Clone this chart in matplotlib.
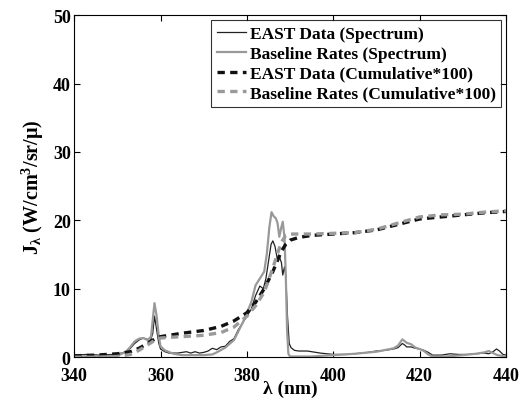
import numpy as np
import matplotlib
matplotlib.use('Agg')
import matplotlib.pyplot as plt

plt.rcParams['font.family'] = 'Liberation Serif'
plt.rcParams['font.weight'] = 'bold'
plt.rcParams['mathtext.fontset'] = 'custom'
plt.rcParams['mathtext.rm'] = 'Liberation Serif:bold'
plt.rcParams['mathtext.it'] = 'Liberation Serif:bold'
plt.rcParams['mathtext.bf'] = 'Liberation Serif:bold'

# EAST spectrum (thin dark line)
east_wl = [340, 343, 346, 349, 351, 352, 353, 354, 355, 356, 357, 357.6, 358.2, 358.6,
           359.1, 359.6, 360, 361, 362, 364, 366, 367, 368, 369, 370, 371, 372, 373,
           374, 375, 376, 377, 378, 379, 380, 381, 382, 383, 383.8, 384.4, 385, 385.6,
           386, 386.5, 387, 387.5, 388, 388.3, 388.7, 389, 389.4, 389.8, 390.2, 391,
           392, 394, 395, 397, 400, 403, 405, 408, 410, 412, 414, 415, 416, 416.5,
           417, 418, 419, 420, 421, 422, 423, 425, 427, 429, 431, 433, 435, 436,
           437, 437.8, 438.5, 439.3, 440]
east_spec = [0.3, 0.4, 0.3, 0.4, 0.6, 0.8, 1.3, 2.0, 2.5, 2.8, 2.6, 2.3, 3.5, 6.0,
             4.0, 2.0, 1.2, 0.8, 0.6, 0.6, 0.8, 0.6, 0.8, 0.6, 0.7, 0.9, 1.3, 1.1,
             1.5, 1.6, 2.3, 2.7, 4.0, 5.0, 6.0, 7.0, 9.0, 10.4, 10.0, 11.5, 14.0, 16.5,
             17.0, 16.2, 14.5, 14.7, 13.8, 12.0, 13.2, 12.0, 6.0, 2.0, 1.4, 1.0,
             0.9, 0.9, 0.8, 0.6, 0.4, 0.4, 0.5, 0.7, 0.9, 1.0, 1.2, 1.4, 2.0, 1.8,
             1.5, 1.5, 1.3, 1.2, 1.0, 0.7, 0.3, 0.3, 0.5, 0.4, 0.4, 0.5, 0.6, 0.5,
             0.8, 1.2, 0.9, 0.4, 0.3]

# Baseline rates spectrum (grey line)
base_wl = [340, 345, 350, 352, 353, 354, 355, 356, 357, 357.8, 358.2, 358.6, 359.1,
           359.6, 360, 361, 363, 365, 368, 370, 372, 373, 375, 377, 379, 380, 381,
           382, 383, 384, 384.6, 385.2, 385.7, 386.2, 386.7, 387.1, 387.5, 387.9,
           388.3, 388.7, 389, 389.3, 389.6, 390, 395, 400, 405, 410, 414, 415, 416,
           417, 418, 419, 420, 421, 422, 423, 426, 430, 433, 435, 436, 438, 440]
base_spec = [0.1, 0.1, 0.2, 0.8, 1.5, 2.3, 2.7, 2.8, 2.5, 3.0, 5.5, 7.9, 6.0,
             3.0, 1.6, 1.0, 0.5, 0.3, 0.3, 0.3, 0.4, 0.7, 1.4, 2.5, 5.0, 6.5, 8.0,
             10.5, 11.5, 12.5, 15.0, 19.0, 21.2, 20.6, 20.3, 19.6, 17.6, 18.8,
             19.8, 17.5, 12.0, 4.0, 0.5, 0.1, 0.1, 0.3, 0.5, 0.8, 1.3, 1.7, 2.6,
             2.1, 1.9, 1.4, 1.2, 0.9, 0.4, 0.1, 0.1, 0.3, 0.5, 0.7, 0.9, 0.3, 0.1]

# Cumulative curves (*100)
cum_wl = [340, 345, 350, 353, 355, 357, 359, 360, 362, 365, 370, 374, 377, 380,
          382, 384, 386, 387, 388, 389, 390, 392, 395, 400, 405, 410, 415, 420,
          425, 430, 435, 440]
east_cum = [0.2, 0.3, 0.5, 0.8, 1.3, 2.0, 2.8, 3.0, 3.2, 3.5, 3.9, 4.5, 5.3, 6.5,
            8.0, 10.0, 12.5, 14.0, 15.5, 16.5, 17.1, 17.5, 17.8, 18.0, 18.2, 18.6,
            19.4, 20.2, 20.5, 20.8, 21.1, 21.3]
base_cum = [0.0, 0.0, 0.1, 0.4, 1.0, 1.8, 2.6, 2.8, 2.9, 3.0, 3.2, 3.6, 4.4, 6.0,
            7.5, 9.5, 13.0, 15.0, 16.8, 17.8, 18.0, 18.0, 18.0, 18.1, 18.2, 18.7,
            19.6, 20.5, 20.8, 20.9, 21.2, 21.4]

fig = plt.figure(figsize=(5.26, 4.02), dpi=100)
ax = fig.add_axes([0.141, 0.109, 0.821, 0.851])

ax.plot(east_wl, east_spec, color='#222222', lw=0.9, label='EAST Data (Spectrum)')
ax.plot(base_wl, base_spec, color='#999999', lw=1.6, label='Baseline Rates (Spectrum)')
ax.plot(cum_wl, east_cum, color='#111111', lw=2.4, ls=(0, (2.2, 1.6)),
        label='EAST Data (Cumulative*100)')
ax.plot(cum_wl, base_cum, color='#9a9a9a', lw=2.4, ls=(0, (2.2, 1.6)),
        label='Baseline Rates (Cumulative*100)')

ax.set_xlim(340, 440)
ax.set_ylim(0, 50)
ax.set_xticks([340, 360, 380, 400, 420, 440])
ax.set_yticks([0, 10, 20, 30, 40, 50])
ax.tick_params(direction='in', top=True, right=True, labelsize=13, length=4)
ax.tick_params(axis='x', pad=7)
ax.tick_params(axis='y', pad=2.5)
for lab in ax.get_xticklabels() + ax.get_yticklabels():
    lab.set_fontweight('bold')

ax.set_xlabel('λ (nm)', fontsize=14, fontweight='bold', labelpad=-3)
ax.set_ylabel(r'J$_{\lambda}$ (W/cm$^{3}$/sr/μ)', fontsize=14.5, fontweight='bold', labelpad=5)

leg = ax.legend(loc='upper right', fontsize=12.5, frameon=True, fancybox=False,
                handlelength=1.7, handletextpad=0.2, borderpad=0.3,
                labelspacing=0.22, borderaxespad=0.3)
leg.get_frame().set_edgecolor('black')
leg.get_frame().set_linewidth(0.8)
for t in leg.get_texts():
    t.set_fontweight('bold')

fig.savefig('out.png', dpi=100)
